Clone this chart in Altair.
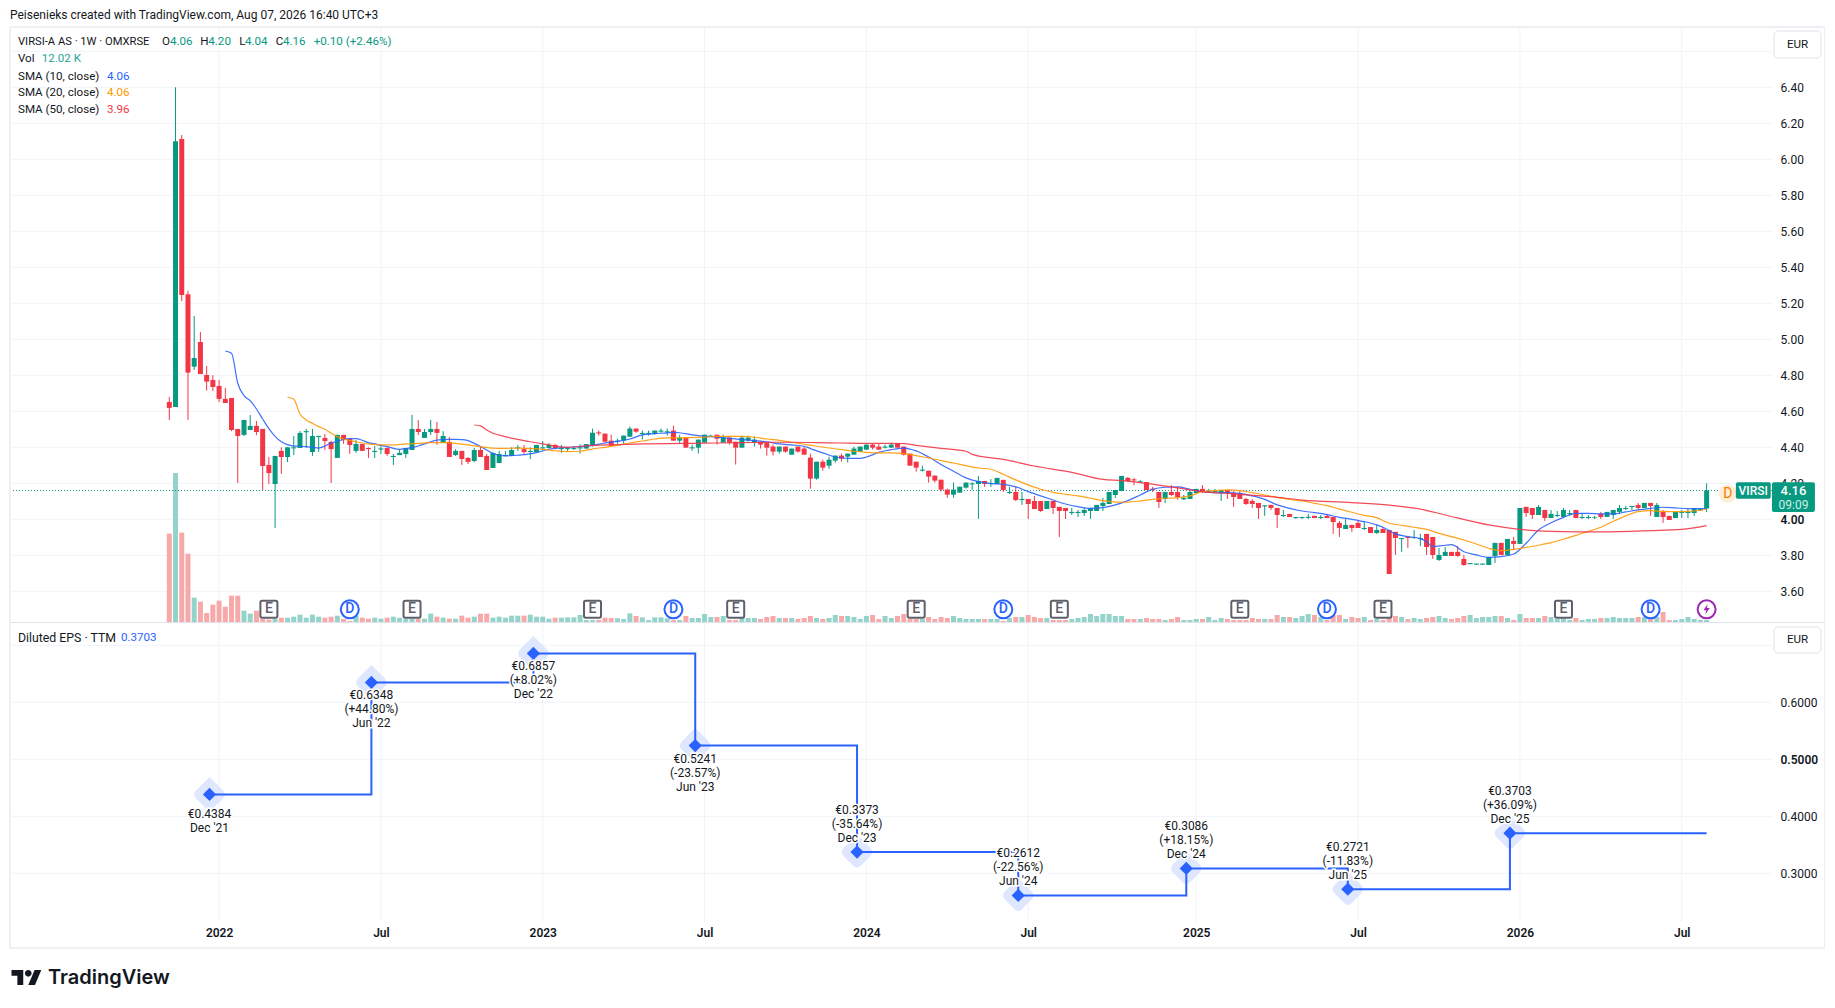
import altair as alt
import pandas as pd

FONT = "Roboto"
GREEN = "#089981"
RED = "#f23645"
BLUE = "#2962ff"
ORANGE = "#ff9800"
DARK = "#131722"
GRID = "#f0f3fa"

opens = [
4.652,4.624,6.113,5.25,4.848,4.985,4.802,4.774,4.741,4.669,
4.674,4.502,4.469,4.496,4.519,4.502,4.302,4.196,4.38,4.346,
4.394,4.396,4.484,4.374,4.457,4.452,4.43,4.341,4.469,4.446,
4.38,4.419,4.396,4.374,4.388,4.396,4.346,4.357,4.363,4.385,
4.502,4.452,4.485,4.502,4.424,4.43,4.357,4.38,4.341,4.324,
4.385,4.352,4.285,4.313,4.351,4.352,4.394,4.39,4.374,4.374,
4.394,4.396,4.413,4.39,4.39,4.39,4.394,4.393,4.409,4.483,
4.476,4.437,4.431,4.437,4.459,4.504,4.474,4.474,4.476,4.487,
4.483,4.493,4.437,4.454,4.394,4.398,4.426,4.459,4.47,4.426,
4.454,4.431,4.398,4.437,4.426,4.431,4.426,4.404,4.376,4.404,
4.359,4.404,4.393,4.343,4.226,4.32,4.298,4.326,4.354,4.348,
4.359,4.376,4.387,4.415,4.404,4.398,4.398,4.42,4.404,4.365,
4.32,4.27,4.27,4.243,4.22,4.165,4.137,4.148,4.176,4.194,
4.196,4.213,4.196,4.196,4.219,4.146,4.152,4.107,4.113,4.102,
4.102,4.057,4.102,4.069,4.063,4.035,4.035,4.035,4.046,4.046,
4.074,4.085,4.135,4.157,4.23,4.222,4.205,4.207,4.17,4.152,
4.113,4.152,4.152,4.111,4.113,4.146,4.169,4.151,4.151,4.146,
4.163,4.146,4.141,4.113,4.102,4.091,4.072,4.08,4.063,4.018,
4.03,4.007,4.007,4.008,4.019,4.007,4.019,4.013,3.98,3.946,
3.969,3.98,3.946,3.957,3.924,3.946,3.941,3.93,3.89,3.902,
3.896,3.89,3.919,3.902,3.774,3.796,3.819,3.819,3.78,3.751,
3.748,3.748,3.746,3.796,3.869,3.802,3.88,3.863,4.069,4.063,
4.024,4.052,4.007,4.018,4.013,4.029,4.052,4.007,4.007,4.007,
4.03,4.013,4.024,4.041,4.057,4.068,4.08,4.063,4.091,4.013,
4.041,4.019,4.007,4.035,4.035,4.035,4.051,4.06]
highs = [
4.68,6.40,6.135,5.27,5.13,5.04,4.852,4.80,4.774,4.73,
4.674,4.502,4.552,4.58,4.546,4.502,4.346,4.352,4.40,4.40,
4.463,4.49,4.502,4.502,4.463,4.474,4.436,4.469,4.469,4.446,
4.44,4.419,4.40,4.407,4.407,4.40,4.363,4.39,4.396,4.58,
4.552,4.502,4.552,4.541,4.49,4.457,4.39,4.38,4.346,4.396,
4.407,4.363,4.369,4.38,4.38,4.40,4.413,4.413,4.40,4.413,
4.435,4.424,4.418,4.413,4.40,4.405,4.418,4.418,4.504,4.493,
4.476,4.47,4.448,4.465,4.515,4.504,4.493,4.493,4.493,4.504,
4.504,4.52,4.47,4.454,4.415,4.443,4.47,4.47,4.47,4.47,
4.454,4.431,4.465,4.465,4.461,4.431,4.426,4.415,4.404,4.404,
4.393,4.404,4.404,4.365,4.32,4.331,4.348,4.354,4.365,4.365,
4.404,4.404,4.415,4.42,4.42,4.415,4.426,4.42,4.404,4.365,
4.32,4.298,4.27,4.243,4.22,4.17,4.204,4.181,4.204,4.206,
4.241,4.213,4.224,4.23,4.219,4.18,4.18,4.152,4.113,4.13,
4.102,4.102,4.102,4.069,4.063,4.063,4.052,4.063,4.063,4.08,
4.119,4.152,4.163,4.241,4.235,4.23,4.219,4.207,4.18,4.152,
4.152,4.19,4.18,4.135,4.163,4.169,4.19,4.169,4.169,4.163,
4.163,4.157,4.157,4.119,4.113,4.091,4.078,4.08,4.063,4.052,
4.03,4.013,4.013,4.03,4.019,4.024,4.03,4.013,3.991,4.002,
3.969,3.996,3.991,3.957,3.969,3.957,3.941,3.93,3.896,3.902,
3.941,3.919,3.919,3.902,3.841,3.846,3.819,3.852,3.802,3.757,
3.754,3.754,3.791,3.869,3.869,3.891,3.902,4.063,4.069,4.063,
4.08,4.052,4.052,4.046,4.063,4.052,4.052,4.03,4.024,4.019,
4.041,4.041,4.052,4.08,4.074,4.074,4.091,4.091,4.091,4.091,
4.052,4.019,4.041,4.052,4.057,4.063,4.063,4.20]
lows = [
4.552,4.624,5.213,4.552,4.83,4.807,4.715,4.713,4.652,4.646,
4.49,4.202,4.463,4.496,4.468,4.163,4.196,3.952,4.252,4.318,
4.357,4.396,4.396,4.352,4.374,4.385,4.202,4.341,4.419,4.363,
4.369,4.38,4.341,4.341,4.363,4.352,4.302,4.357,4.341,4.385,
4.468,4.452,4.468,4.413,4.424,4.346,4.352,4.302,4.307,4.318,
4.346,4.274,4.285,4.313,4.351,4.352,4.38,4.363,4.335,4.374,
4.39,4.396,4.39,4.369,4.374,4.385,4.365,4.393,4.404,4.465,
4.426,4.409,4.42,4.42,4.459,4.481,4.443,4.465,4.47,4.481,
4.465,4.437,4.42,4.398,4.381,4.365,4.426,4.459,4.415,4.426,
4.415,4.304,4.398,4.431,4.404,4.393,4.354,4.354,4.365,4.37,
4.359,4.37,4.359,4.17,4.22,4.27,4.281,4.315,4.32,4.315,
4.359,4.376,4.387,4.387,4.387,4.393,4.398,4.398,4.354,4.298,
4.265,4.265,4.204,4.204,4.154,4.12,4.12,4.148,4.17,4.165,
4.002,4.18,4.18,4.196,4.152,4.141,4.102,4.08,4.002,4.057,
4.041,4.057,4.03,3.902,4.002,4.024,4.013,4.019,4.002,4.046,
4.046,4.085,4.119,4.157,4.207,4.19,4.202,4.163,4.152,4.063,
4.09,4.13,4.109,4.107,4.113,4.146,4.146,4.146,4.146,4.102,
4.113,4.069,4.113,4.08,4.063,4.002,4.019,4.052,3.952,4.013,
4.013,4.002,4.002,4.002,4.007,4.002,4.007,3.919,3.902,3.946,
3.93,3.952,3.941,3.924,3.919,3.924,3.696,3.802,3.819,3.841,
3.891,3.852,3.802,3.78,3.769,3.796,3.796,3.791,3.741,3.751,
3.748,3.748,3.746,3.757,3.802,3.802,3.83,3.863,4.013,4.002,
4.024,3.991,4.007,4.013,4.013,4.019,4.007,4.002,4.002,4.002,
4.002,4.013,4.002,4.03,4.052,4.052,4.052,4.063,4.019,4.013,
3.98,3.996,4.007,4.007,4.007,4.019,4.046,4.04]
closes = [
4.619,6.10,5.246,4.815,4.896,4.807,4.765,4.735,4.669,4.646,
4.496,4.463,4.552,4.519,4.485,4.296,4.257,4.352,4.346,4.40,
4.40,4.48,4.49,4.463,4.463,4.435,4.39,4.469,4.44,4.413,
4.419,4.38,4.39,4.38,4.394,4.363,4.352,4.369,4.396,4.502,
4.485,4.485,4.502,4.48,4.463,4.346,4.38,4.335,4.319,4.385,
4.346,4.274,4.369,4.363,4.357,4.385,4.40,4.374,4.38,4.413,
4.40,4.413,4.396,4.396,4.396,4.396,4.40,4.418,4.481,4.477,
4.431,4.409,4.437,4.465,4.504,4.487,4.48,4.48,4.493,4.493,
4.489,4.437,4.454,4.398,4.40,4.443,4.47,4.465,4.448,4.454,
4.426,4.398,4.454,4.454,4.443,4.415,4.398,4.376,4.404,4.376,
4.393,4.376,4.359,4.226,4.32,4.287,4.331,4.354,4.337,4.365,
4.393,4.404,4.415,4.398,4.387,4.404,4.415,4.398,4.359,4.298,
4.287,4.276,4.237,4.215,4.165,4.137,4.165,4.181,4.204,4.20,
4.213,4.196,4.202,4.23,4.163,4.152,4.107,4.113,4.085,4.057,
4.046,4.102,4.063,4.046,4.046,4.041,4.041,4.052,4.063,4.08,
4.091,4.152,4.163,4.241,4.213,4.216,4.211,4.163,4.164,4.096,
4.152,4.135,4.124,4.119,4.152,4.169,4.157,4.157,4.157,4.163,
4.146,4.124,4.113,4.085,4.085,4.063,4.078,4.063,4.024,4.024,
4.013,4.013,4.013,4.014,4.007,4.013,4.007,3.985,3.952,3.969,
3.952,3.952,3.952,3.924,3.941,3.924,3.696,3.896,3.896,3.896,
3.902,3.896,3.846,3.802,3.802,3.819,3.796,3.796,3.746,3.757,
3.754,3.754,3.791,3.869,3.802,3.891,3.863,4.063,4.035,4.024,
4.069,4.007,4.03,4.024,4.052,4.035,4.007,4.013,4.013,4.011,
4.013,4.041,4.052,4.063,4.063,4.074,4.063,4.091,4.074,4.08,
4.013,3.996,4.041,4.041,4.041,4.063,4.057,4.16]
volumes = [
530,894,536,410,146,122,54,104,128,92,
158,158,68,50,68,18,14,18,26,26,
32,44,26,44,32,26,32,38,18,6,
38,26,20,26,20,26,32,26,20,20,
20,20,50,32,26,20,20,38,26,32,
50,50,26,32,26,38,38,38,44,32,
32,20,26,26,28,28,42,12,12,12,
26,24,22,18,52,36,28,12,28,28,
22,12,12,36,24,24,48,30,30,36,
12,12,24,24,24,18,30,36,24,24,
24,18,24,36,24,18,24,42,36,36,
30,18,36,42,18,36,24,36,48,18,
18,18,30,18,30,24,36,24,18,18,
18,18,18,18,6,24,30,30,42,30,
24,24,12,12,12,18,24,30,48,36,
48,48,36,36,18,18,18,24,18,18,
12,18,30,12,12,18,18,30,12,24,
18,12,12,12,24,18,18,18,42,30,
30,24,36,48,42,30,12,42,42,18,
30,24,30,12,18,12,24,36,30,18,
24,18,24,30,36,24,18,24,36,42,
24,30,30,36,36,24,12,48,24,24,
24,36,30,18,24,12,24,12,18,18,
24,24,30,24,24,24,30,30,24,30,
60,12,12,18,30,18,12,12.02]

sma10_i = list(range(9,65)) + list(range(68,82,2)) + [81,82,84,86,88,90,92,94,96,98,100,102,103,105,107,109,111,112,114,116,118,120,122,124,126,128] + list(range(130,196,2)) + [195,197,199,201,202,203,205,206] + list(range(208,246,2)) + [247]
sma10_i = sorted(set(sma10_i))
sma10_v = [4.935,4.922,4.756,4.687,4.659,4.613,4.557,4.504,4.461,4.431,4.415,4.407,4.406,4.404,4.40,4.396,4.407,4.424,4.433,4.444,4.448,4.448,4.439,4.426,4.419,4.411,4.404,4.394,4.389,4.393,4.398,4.407,4.419,4.431,4.44,4.443,4.444,4.444,4.443,4.437,4.422,4.404,4.385,4.367,4.356,4.352,4.354,4.356,4.359,4.365,4.37,4.38,4.39,4.394,4.398,4.40,
4.411,4.424,4.433,4.446,4.469,4.476,4.48,4.483,4.481,4.469,4.461,4.457,4.45,4.443,4.437,4.43,4.419,4.413,4.406,4.393,4.369,4.346,4.339,4.339,4.346,4.372,4.387,4.396,4.38,4.346,4.304,4.267,4.23,
4.209,4.198,4.194,4.18,4.154,4.13,4.107,4.085,4.07,4.061,4.065,4.08,4.104,4.135,4.167,4.178,4.18,4.167,4.154,4.148,4.148,4.144,4.13,4.111,4.08,4.061,4.046,4.037,4.026,4.011,4.0,3.987,3.969,3.956,
3.919,3.904,3.893,3.876,3.848,3.856,3.859,3.82,3.802,3.789,3.793,3.807,3.867,3.941,3.981,4.011,4.033,4.033,4.03,4.03,4.041,4.052,4.061,4.067,4.063,4.059,4.06]

sma20_i = [19,20,21,22,23,24,25,26,27,28,30,32,34,36,38,40,42,44,46,48,50,52,54,56,58,60,62,64,66,68,70,72,74,76,78,80,82,84,86,88,90,92,94,96,98,100,102,104,106,108,110,112,114,116,118,120,122,124,126,128,130,132,134,136,138,140,142,144,146,148,150,152,154,156,158,160,162,164,166,168,170,172,174,176,178,180,182,184,186,188,190,192,194,196,198,200,202,204,206,208,210,212,214,216,218,220,222,224,226,228,230,232,234,236,238,240,242,244,247]
sma20_v = [4.678,4.667,4.585,4.552,4.533,4.515,4.5,4.478,4.459,4.446,4.431,4.419,4.413,4.413,4.419,4.422,4.426,4.426,4.422,4.413,4.404,4.396,4.394,4.396,4.393,4.389,4.381,4.376,4.378,4.391,4.40,4.411,4.424,4.435,4.446,4.452,4.452,4.454,4.457,4.461,4.461,4.461,4.456,4.446,4.439,4.428,4.417,4.406,4.396,4.387,4.378,4.372,4.369,4.369,4.365,4.354,4.341,4.326,4.313,4.298,4.285,4.278,4.25,4.219,4.191,4.167,4.15,4.139,4.13,4.117,4.104,4.096,4.096,4.102,4.111,4.117,4.12,4.13,4.154,4.159,4.163,4.159,4.148,4.135,4.122,4.111,4.102,4.089,4.076,4.057,4.039,4.022,4.009,3.978,3.967,3.956,3.944,3.922,3.904,3.885,3.863,3.839,3.826,3.833,3.844,3.856,3.87,3.889,3.911,3.933,3.956,3.989,4.019,4.043,4.048,4.044,4.043,4.044,4.056]

sma50_i = [49,50,51,52,54,56,58,60,62,64,68,72,76,80,84,88,92,96,100,104,108,112,116,118,120,124,128,129,134,139,145,150,153,156,163,166,171,177,182,190,196,201,205,212,217,222,230,238,243,247]
sma50_v = [4.524,4.519,4.496,4.478,4.459,4.444,4.431,4.419,4.407,4.40,4.411,4.415,4.419,4.42,4.422,4.424,4.426,4.428,4.428,4.426,4.424,4.422,4.422,4.42,4.411,4.394,4.378,4.361,4.333,4.296,4.261,4.222,4.215,4.204,4.169,4.154,4.141,4.126,4.107,4.093,4.079,4.057,4.024,3.969,3.944,3.933,3.93,3.937,3.944,3.965]

eps_i = [6.46,32.47,58.5,84.5,110.5,136.4,163.4,189.35,215.4,247]
eps_v = [0.4384,0.6348,0.6857,0.5241,0.3373,0.2612,0.3086,0.2721,0.3703,0.3703]
eps_price = ["€0.4384","€0.6348","€0.6857","€0.5241","€0.3373","€0.2612","€0.3086","€0.2721","€0.3703"]
eps_change = ["","(+44.80%)","(+8.02%)","(-23.57%)","(-35.64%)","(-22.56%)","(+18.15%)","(-11.83%)","(+36.09%)"]
eps_period = ["Dec '21","Jun '22","Dec '22","Jun '23","Dec '23","Jun '24","Dec '24","Jun '25","Dec '25"]
eps_above = [False,False,False,False,True,True,True,True,True]

earn_i = [16,39,68,91,120,143,172,195,224]
div_i = [29,81,134,186,238]
flash_i = [247]
tick_i = [8,34,60,86,112,138,165,191,217,243]
tick_labels = ["2022","Jul","2023","Jul","2024","Jul","2025","Jul","2026","Jul"]
price_ticks = [3.6,3.8,4.0,4.2,4.4,4.6,4.8,5.0,5.2,5.4,5.6,5.8,6.0,6.2,6.4]
price_grid = price_ticks + [6.6]
eps_grid = [0.3,0.4,0.5,0.6,0.7]
eps_ticks = [0.3,0.4,0.5,0.6]
last_price = 4.16

W, H = 1817, 990
X_LEFT, X_RIGHT = -25.6, 257.5
xs = alt.Scale(domain=[-25.916, 266.02], nice=False, zero=False)
ps = alt.Scale(domain=[1.3406, 6.8406], nice=False, zero=False)
es = alt.Scale(domain=[0.08123, 1.81807], nice=False, zero=False)
# volume baseline sits on the pane separator: 6 K per pixel, 614 px above it, 376 px below
vs = alt.Scale(domain=[-2256, 3684], nice=False, zero=False)

X = alt.X("i:Q", scale=xs, axis=None)
XA = alt.X("a:Q", scale=xs, axis=None)
P = alt.Y("p:Q", scale=ps, axis=None)
E = alt.Y("e:Q", scale=es, axis=None)

bars = pd.DataFrame({"i": range(len(opens)), "o": opens, "h": highs, "l": lows, "c": closes, "v": volumes})
bars["up"] = bars.c >= bars.o
bars["base"] = 0
colour = alt.condition("datum.up", alt.value(GREEN), alt.value(RED))
vcolour = alt.condition("datum.up", alt.value("#94d3ca"), alt.value("#f7a8a8"))

# gridlines and axes
hg = pd.DataFrame({"p": price_grid, "a": X_LEFT, "b": X_RIGHT})
price_grid_layer = alt.Chart(hg).mark_rule(color=GRID, strokeWidth=1).encode(
    x=XA, x2="b:Q",
    y=alt.Y("p:Q", scale=ps, title=None,
            axis=alt.Axis(orient="right", values=price_ticks, format=".2f", offset=-45, domain=False, ticks=False,
                          grid=False, labelPadding=0, labelFont=FONT, labelFontSize=12, labelColor=DARK, title=None,
                          labelFontWeight={"condition": {"test": "datum.value == 4", "value": 600}, "value": 400})))
vg = pd.DataFrame({"i": tick_i, "top": 6.735, "bot": 1.763, "lab": tick_labels})
label_expr = "{" + ",".join(f"'{i}':'{t}'" for i, t in zip(tick_i, tick_labels)) + "}[datum.value]"
vert_grid = alt.Chart(vg).mark_rule(color=GRID, strokeWidth=1).encode(
    x=alt.X("i:Q", scale=xs, title=None,
            axis=alt.Axis(orient="bottom", values=tick_i, labelExpr=label_expr, offset=-71, domain=False, ticks=False,
                          grid=False, labelPadding=0, labelFont=FONT, labelFontSize=12, labelColor=DARK, title=None,
                          labelFontWeight={"condition": {"test": "datum.label == 'Jul'", "value": 400}, "value": 600})),
    y=alt.Y("top:Q", scale=ps, axis=None), y2="bot:Q")

vol_layer = alt.Chart(bars).mark_rule(strokeWidth=5).encode(
    x=X, y=alt.Y("v:Q", scale=vs, axis=None), y2="base:Q", color=vcolour)

dot = alt.Chart(pd.DataFrame({"p": [last_price], "a": X_LEFT, "b": X_RIGHT})).mark_rule(
    color=GREEN, strokeWidth=1, strokeDash=[1, 2]).encode(x=XA, x2="b:Q", y=P)

wicks = alt.Chart(bars).mark_rule(strokeWidth=1).encode(x=X, y=alt.Y("h:Q", scale=ps, axis=None), y2="l:Q", color=colour)
bodies = alt.Chart(bars).mark_rule(strokeWidth=5).encode(x=X, y=alt.Y("o:Q", scale=ps, axis=None), y2="c:Q", color=colour)

def sma(ix, vals, col):
    return alt.Chart(pd.DataFrame({"i": ix, "p": vals})).mark_line(color=col, strokeWidth=1.2, interpolate="monotone", opacity=0.9).encode(x=X, y=P)

ROUND = "M-0.8,-1 L0.8,-1 Q1,-1 1,-0.8 L1,0.8 Q1,1 0.8,1 L-0.8,1 Q-1,1 -1,0.8 L-1,-0.8 Q-1,-1 -0.8,-1 Z"
BOLT = "M0.2,-1 L-0.6,0.2 L-0.05,0.2 L-0.25,1 L0.6,-0.25 L0.05,-0.25 Z"
HALO = "M0,-1 Q0.25,-0.75 0.75,-0.25 Q1,0 0.75,0.25 L0.2,0.8 Q0,1 -0.2,0.8 L-0.75,0.25 Q-1,0 -0.75,-0.25 Q-0.25,-0.75 0,-1 Z"
EVENT_P = 3.5

def ev_frame(ix):
    return pd.DataFrame({"i": ix, "p": [EVENT_P] * len(ix)})

def ev_text(ix, t, col):
    f = ev_frame(ix); f["t"] = t
    return alt.Chart(f).mark_text(color=col, fontSize=14, font=FONT, fontWeight=500).encode(x=X, y=P, text="t:N")

earn_box = alt.Chart(ev_frame(earn_i)).mark_point(shape=ROUND, size=289, fill="white", stroke="#5d606b", strokeWidth=2, opacity=1).encode(x=X, y=P)
div_circ = alt.Chart(ev_frame(div_i)).mark_point(shape="circle", size=324, fill="white", stroke=BLUE, strokeWidth=2, opacity=1).encode(x=X, y=P)
flash_circ = alt.Chart(ev_frame(flash_i)).mark_point(shape="circle", size=324, fill="white", stroke="#9c27b0", strokeWidth=2, opacity=1).encode(x=X, y=P)
flash_bolt = alt.Chart(ev_frame(flash_i)).mark_point(shape=BOLT, size=110, filled=True, color="#9c27b0", opacity=1).encode(x=X, y=P)

# last price tags and upcoming dividend badge
tag_name = alt.Chart(pd.DataFrame({"a": [251.7], "b": [257.3], "p": [4.2056], "q": [4.1144]})).mark_rect(color=GREEN, cornerRadius=2).encode(x=XA, x2="b:Q", y=P, y2="q:Q")
tag_price = alt.Chart(pd.DataFrame({"a": [257.5], "b": [264.4], "p": [4.2056], "q": [4.0406]})).mark_rect(color=GREEN, cornerRadius=2).encode(x=XA, x2="b:Q", y=P, y2="q:Q")
next_div = pd.DataFrame({"i": [250.4], "p": [4.1425], "t": ["D"]})
next_halo = alt.Chart(next_div).mark_point(shape="circle", size=324, filled=True, color="#ffedd5", opacity=1).encode(x=X, y=P)
next_text = alt.Chart(next_div).mark_text(color="#f57c00", fontSize=14, font=FONT).encode(x=X, y=P, text="t:N")

def tag_text(i, p, t, col="white", size=12, weight=400):
    return alt.Chart(pd.DataFrame({"i": [i], "p": [p], "t": [t]})).mark_text(color=col, fontSize=size, font=FONT, fontWeight=weight).encode(x=X, y=P, text="t:N")

price_layer = alt.layer(
    dot, wicks, bodies,
    sma(sma10_i, sma10_v, BLUE), sma(sma20_i, sma20_v, ORANGE), sma(sma50_i, sma50_v, RED),
    earn_box, ev_text(earn_i, "E", "#5d606b"),
    div_circ, ev_text(div_i, "D", BLUE),
    flash_circ, flash_bolt,
    next_halo, next_text,
    tag_name, tag_price,
    tag_text(254.5, 4.16, "VIRSI", weight=500), tag_text(260.95, 4.155, "4.16", size=13, weight=500),
    tag_text(260.95, 4.077, "09:09", col="#cfeee8"),
)

# EPS pane
eg = pd.DataFrame({"e": eps_grid, "a": X_LEFT, "b": X_RIGHT})
eps_grid_layer = alt.Chart(eg).mark_rule(color=GRID, strokeWidth=1).encode(
    x=XA, x2="b:Q",
    y=alt.Y("e:Q", scale=es, title=None,
            axis=alt.Axis(orient="right", values=eps_ticks, format=".4f", offset=-45, domain=False, ticks=False, grid=False,
                          labelPadding=0, labelFont=FONT, labelFontSize=12, labelColor=DARK, title=None,
                          labelFontWeight={"condition": {"test": "datum.value == 0.5", "value": 600}, "value": 400})))
pts = pd.DataFrame({"i": eps_i, "e": eps_v})
marks = pts.iloc[:-1]
halo = alt.Chart(marks).mark_point(shape=HALO, size=1225, filled=True, color="#dfe7ff", opacity=1).encode(x=X, y=E)
step = alt.Chart(pts).mark_line(color=BLUE, strokeWidth=2, interpolate="step-after").encode(x=X, y=E)
dia = alt.Chart(marks).mark_point(shape="diamond", size=175, filled=True, color=BLUE, opacity=1).encode(x=X, y=E)

rows = []
for n, (ix, ev, pr, ch, pe, up) in enumerate(zip(eps_i, eps_v, eps_price, eps_change, eps_period, eps_above)):
    lines = [pr, ch, pe] if ch else [pr, pe]
    if up:
        off = [-42, -28, -14]
    elif ch:
        off = [13, 27, 41]
    else:
        off = [20, 34]
    for t, d in zip(lines, off):
        rows.append({"i": ix, "e": ev, "t": t, "d": d})
rows = pd.DataFrame(rows)
txt = []
for d, g in rows.groupby("d"):
    txt.append(alt.Chart(g).mark_text(dy=int(d), font=FONT, fontSize=12, color="white", stroke="white", strokeWidth=3).encode(x=X, y=E, text="t:N"))
for d, g in rows.groupby("d"):
    txt.append(alt.Chart(g).mark_text(dy=int(d), font=FONT, fontSize=12, color=DARK).encode(x=X, y=E, text="t:N"))
eps_layer = alt.layer(halo, step, dia, *txt)

def label(t, x, y, color=DARK, size=11.6, align="left", weight=400, font=FONT):
    return alt.Chart(pd.DataFrame({"t": [t]})).mark_text(align=align, baseline="middle", color=color, fontSize=size, fontWeight=weight, font=font).encode(
        x=alt.value(x - 8), y=alt.value(y - 8), text="t:N")

def box(x0, y0, x1, y1, stroke, sw=1, radius=0):
    return alt.Chart(pd.DataFrame({"t": [0]})).mark_rect(fill="white", fillOpacity=0, stroke=stroke, strokeWidth=sw, cornerRadius=radius).encode(
        x=alt.value(x0 - 8), x2=alt.value(x1 - 8), y=alt.value(y0 - 8), y2=alt.value(y1 - 8))

def hline(x0, x1, y, col):
    return alt.Chart(pd.DataFrame({"t": [0]})).mark_rule(color=col, strokeWidth=1).encode(
        x=alt.value(x0 - 8), x2=alt.value(x1 - 8), y=alt.value(y - 8))

LOGO = ("M-0.222,0.5 L-0.611,0.5 L-0.611,-0.111 L-1,-0.111 L-1,-0.5 L-0.222,-0.5 Z "
        "M0.556,0.5 L0.111,0.5 L0.528,-0.5 L0.972,-0.5 Z "
        "M0.333,-0.278 A0.222,0.222 0 1 1 -0.111,-0.278 A0.222,0.222 0 1 1 0.333,-0.278 Z")
logo = alt.Chart(pd.DataFrame({"t": [0]})).mark_point(shape=LOGO, size=912, filled=True, color=DARK, opacity=1).encode(x=alt.value(18.6), y=alt.value(969.5))

TEAL = "#26a69a"
overlay = [
    box(10, 27, 1825, 948, "#eef0f4", 2),
    hline(10, 1825, 622.5, "#e0e3eb"),
    box(1774, 31, 1821, 58, "#e0e3eb", 1, 4),
    box(1774, 627, 1821, 653, "#e0e3eb", 1, 4),
    label("EUR", 1797.5, 44.5, align="center"),
    label("EUR", 1797.5, 640, align="center"),
    label("Peisenieks created with TradingView.com, Aug 07, 2026 16:40 UTC+3", 10, 14.7, size=12),
    label("VIRSI-A AS · 1W · OMXRSE", 18, 42.2, size=11.2),
    label("O", 162, 42.2), label("4.06", 170, 42.2, GREEN),
    label("H", 200.3, 42.2), label("4.20", 208.3, 42.2, GREEN),
    label("L", 239.3, 42.2), label("4.04", 245, 42.2, GREEN),
    label("C", 275.7, 42.2), label("4.16", 283, 42.2, GREEN),
    label("+0.10 (+2.46%)", 313.7, 42.2, GREEN),
    label("Vol", 18, 59.2), label("12.02 K", 41.7, 59.2, TEAL),
    label("SMA (10, close)", 18, 76.5), label("4.06", 107, 76.5, BLUE),
    label("SMA (20, close)", 18, 93.2), label("4.06", 107, 93.2, ORANGE),
    label("SMA (50, close)", 18, 110.2), label("3.96", 107, 110.2, RED),
    label("Diluted EPS · TTM", 18, 637.7, size=12.3), label("0.3703", 121, 637.7, BLUE),
    logo,
    label("TradingView", 48, 977.5, size=20, weight=600, font="Inter"),
]

chart = alt.layer(
    price_grid_layer,
    vert_grid,
    eps_grid_layer,
    vol_layer,
    price_layer,
    eps_layer,
    alt.layer(*overlay),
).resolve_scale(y="independent").resolve_axis(x="independent", y="independent").properties(
    width=W, height=H, padding=0, autosize=alt.AutoSizeParams(type="none"), background="white"
).configure_view(stroke=None)

chart.save("out.html", embed_options={"renderer": "svg", "actions": False})
